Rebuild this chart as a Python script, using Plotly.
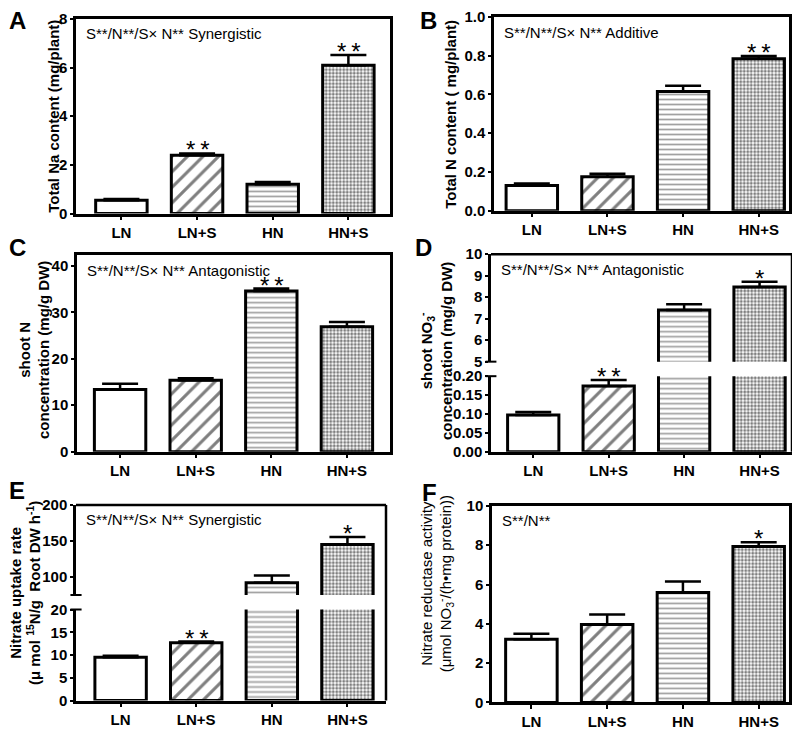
import plotly.graph_objects as go

# the page body keeps an 8 px margin, so the figure is 16 px smaller than the window
W, H = 800, 738
OFF = 8
FW, FH = W - 2 * OFF, H - 2 * OFF
FONT = "Liberation Sans, Arial, sans-serif"

categories = ["LN", "LN+S", "HN", "HN+S"]

# A - total Na content (mg/plant)
na_mean = [0.55, 2.40, 1.20, 6.10]
na_err = [0.05, 0.07, 0.10, 0.42]
na_sig = ["", "**", "", "**"]

# B - total N content (mg/plant)
totn_mean = [0.13, 0.175, 0.615, 0.785]
totn_err = [0.01, 0.015, 0.03, 0.013]
totn_sig = ["", "", "", "**"]

# C - shoot N concentration (mg/g DW)
shootn_mean = [13.4, 15.4, 34.6, 26.9]
shootn_err = [1.2, 0.4, 0.5, 1.0]
shootn_sig = ["", "", "**", ""]

# D - shoot NO3- concentration (mg/g DW)
no3_mean = [0.097, 0.174, 7.40, 8.47]
no3_err = [0.008, 0.016, 0.27, 0.25]
no3_sig = ["", "**", "", "*"]

# E - nitrate uptake rate
uptake_mean = [9.5, 12.7, 92.0, 145.0]
uptake_err = [0.35, 0.25, 9.9, 10.5]
uptake_sig = ["", "**", "", "*"]

# F - nitrate reductase activity
nr_mean = [3.21, 3.97, 5.59, 7.93]
nr_err = [0.28, 0.50, 0.56, 0.22]
nr_sig = ["", "", "", "*"]

notes = {
    "A": "S**/N**/S× N** Synergistic",
    "B": "S**/N**/S× N** Additive",
    "C": "S**/N**/S× N** Antagonistic",
    "D": "S**/N**/S× N** Antagonistic",
    "E": "S**/N**/S× N** Synergistic",
    "F": "S**/N**",
}


def xdom(x0, x1):
    return [(x0 - OFF) / FW, (x1 - OFF) / FW]


def ydom(y0, y1):
    return [1 - (y1 - OFF) / FH, 1 - (y0 - OFF) / FH]


def px(x, y):
    return (x - OFF) / FW, 1 - (y - OFF) / FH


tickfont = dict(family=FONT, size=15, color="black", weight="bold")
axis_style = dict(showline=True, linecolor="black", linewidth=2.5, ticks="outside",
                  ticklen=4, tickwidth=2, tickcolor="black", tickfont=tickfont,
                  showgrid=False, zeroline=False)

fig = go.Figure()


def add_bars(xa, ya, mean, err):
    fig.add_trace(go.Bar(
        x=categories, y=mean, width=0.68, xaxis=xa, yaxis=ya, showlegend=False,
        marker=dict(color="white", line=dict(color="black", width=3),
                    pattern=dict(shape=["", "/", "-", "."],
                                 fgcolor=["black", "black", "#444", "black"],
                                 bgcolor="white",
                                 size=[8, 11, 5, 3.5],
                                 solidity=[0.1, 0.28, 0.35, 0.55])),
        error_y=dict(type="data", array=err, arrayminus=[0] * 4, symmetric=False,
                     color="black", thickness=2.5, width=18),
    ))


def add_stars(xa, ya, mean, err, sig, idx=None):
    for i, (c, m, e, s) in enumerate(zip(categories, mean, err, sig)):
        if not s or (idx is not None and i not in idx):
            continue
        fig.add_annotation(x=c, y=m + e, xref=xa, yref=ya, text="\u2009".join(s),
                           showarrow=False, yanchor="bottom", yshift=-12,
                           font=dict(family=FONT, size=24, color="black"))


def add_note(xa, ya, key, yshift):
    fig.add_annotation(x=0, y=1, xref=xa + " domain", yref=ya + " domain", text=notes[key],
                       showarrow=False, xanchor="left", yanchor="middle", xshift=8,
                       yshift=yshift, font=dict(family=FONT, size=15, color="black"))


layout = {}

# ---- simple panels: A, B, C, F
simple = [
    ("x", "y", "", "", [76, 390], [10, 211], [-0.6, 3.55], [0, 8], dict(dtick=2), na_mean, na_err, na_sig, "A"),
    ("x2", "y2", "2", "2", [494, 789], [8, 208], [-0.5, 3.4], [0, 1], dict(dtick=0.2, tickformat=".1f"), totn_mean, totn_err, totn_sig, "B"),
    ("x3", "y3", "3", "3", [77, 390], [254, 457], [-0.57, 3.57], [0, 42.3], dict(tickvals=[0, 10, 20, 30, 40]), shootn_mean, shootn_err, shootn_sig, "C"),
    ("x6", "y8", "6", "8", [492, 789], [513, 716], [-0.52, 3.4], [0, 10], dict(dtick=2), nr_mean, nr_err, nr_sig, "F"),
]
for xa, ya, xn, yn, xpx, ypx, xr, yr, yt, m, e, s, key in simple:
    layout["xaxis" + xn] = dict(axis_style, domain=xdom(*xpx), anchor=ya, range=xr, mirror=True)
    layout["yaxis" + yn] = dict(axis_style, domain=ydom(*ypx), anchor=xa, range=yr, mirror=True,
                                ticklen=3, **yt)
    add_bars(xa, ya, m, e)
    add_stars(xa, ya, m, e, s)
    add_note(xa, ya, key, -15)

# ---- broken panels: D and E
shapes = []
broken = [
    ("x4", "y4", "y5", "4", "4", "5", [491, 792], [379, 457], [253, 364], [-0.56, 3.43],
     [0, 0.2], [5, 10], dict(dtick=0.05, tickformat=".2f"), dict(dtick=1),
     no3_mean, no3_err, no3_sig, "D"),
    ("x5", "y6", "y7", "5", "6", "7", [76, 386], [620, 714], [512, 605], [-0.59, 3.51],
     [0, 20], [75, 200], dict(dtick=5), dict(tickvals=[100, 150, 200]),
     uptake_mean, uptake_err, uptake_sig, "E"),
]
for xa, ylo, yhi, xn, lon, hin, xpx, lopx, hipx, xr, lor, hir, lot, hit, m, e, s, key in broken:
    layout["xaxis" + xn] = dict(axis_style, domain=xdom(*xpx), anchor=ylo, range=xr)
    layout["yaxis" + lon] = dict(axis_style, domain=ydom(*lopx), anchor=xa, range=lor, ticklen=3, **lot)
    layout["yaxis" + hin] = dict(axis_style, domain=ydom(*hipx), anchor=xa, range=hir, ticklen=3, **hit)
    add_bars(xa, ylo, m, e)
    add_bars(xa, yhi, m, e)
    add_stars(xa, ylo, m, e, s, idx=[0, 1])
    add_stars(xa, yhi, m, e, s, idx=[2, 3])
    add_note(xa, yhi, key, -15)
    line = dict(color="black", width=2.5)
    # top and right frame
    shapes.append(dict(type="line", xref=xa + " domain", yref=yhi + " domain",
                       x0=0, x1=1, y0=1, y1=1, line=line))
    shapes.append(dict(type="line", xref=xa + " domain", yref="paper", x0=1, x1=1,
                       y0=ydom(*lopx)[0], y1=ydom(*hipx)[1], line=line))
    # caps at the axis break
    shapes.append(dict(type="line", xref=xa + " domain", yref=yhi + " domain",
                       x0=-0.018, x1=0.018, y0=0, y1=0, line=dict(color="black", width=2)))
    shapes.append(dict(type="line", xref=xa + " domain", yref=ylo + " domain",
                       x0=-0.018, x1=0.018, y0=1, y1=1, line=dict(color="black", width=2)))

# ---- y-axis titles
titles = [
    ("Total Na content (mg/plant)", 54, 111, "bold"),
    ("Total N content ( mg/plant)", 451, 109, "bold"),
    ("shoot N<br>concentration (mg/g DW)", 34, 352, "bold"),
    ("shoot NO<sub>3</sub><sup>-</sup><br>concentration (mg/g DW)", 435, 353, "bold"),
    ("Nitrate uptake rate<br>(μ mol <sup>15</sup>N/g  Root DW h<sup>-1</sup>)", 25, 603, "bold"),
    ("Nitrate reductase activity<br>(μmol NO<sub>3</sub><sup>-</sup>/(h•mg protein))", 437, 594, "normal"),
]
for text, cx, cy, wt in titles:
    tx, ty = px(cx, cy)
    fig.add_annotation(x=tx, y=ty, xref="paper", yref="paper", text=text,
                       textangle=-90, showarrow=False, xanchor="center", yanchor="middle",
                       font=dict(family=FONT, size=15, color="black", weight=wt))

# ---- panel letters
letters = [("A", 17, 12), ("B", 428, 12), ("C", 17, 246), ("D", 423, 246), ("E", 17, 497), ("F", 430, 499)]
for t, cx, cy in letters:
    tx, ty = px(cx, cy)
    fig.add_annotation(x=tx, y=ty, xref="paper", yref="paper", text=t,
                       showarrow=False, xanchor="center", yanchor="middle",
                       font=dict(family=FONT, size=24, color="black", weight="bold"))

fig.update_layout(width=FW, height=FH, margin=dict(l=0, r=0, t=0, b=0),
                  plot_bgcolor="white", paper_bgcolor="white", shapes=shapes,
                  barmode="group", **layout)

fig.write_html("out.html")
